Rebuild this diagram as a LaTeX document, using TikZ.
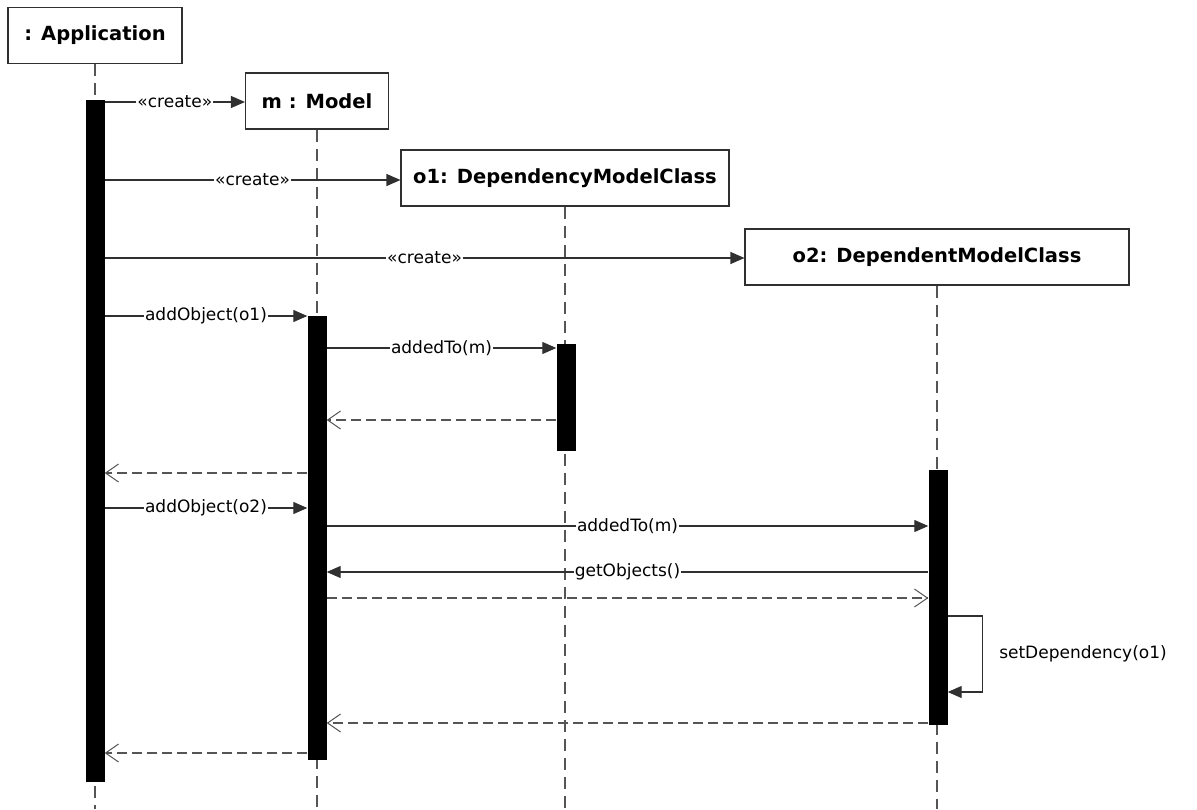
\documentclass[tikz,border=0pt]{standalone}
\usepackage{fontspec}
\setmainfont{DejaVu Sans}
\usetikzlibrary{arrows.meta}
\definecolor{ln}{HTML}{303030}
\definecolor{ll}{HTML}{555555}
\tikzset{
  obj/.style={draw=ln, line width=1.1pt, fill=white, minimum height=56pt, inner sep=0pt, font=\bfseries\fontsize{19.5}{21}\selectfont},
  actbar/.style={fill=black, draw=none, minimum width=19pt, inner sep=0pt},
  lifeline/.style={draw=ll, line width=1.3pt, dash pattern=on 12pt off 7pt},
  msg/.style={draw=ln, line width=1.1pt, -{Triangle[length=14pt,width=12pt]}},
  ret/.style={draw=ll, line width=1.1pt, dash pattern=on 10pt off 5pt, -{Straight Barb[length=13pt,width=18pt,line width=1pt]}},
  lbl/.style={fill=white, inner sep=1pt, font=\fontsize{17}{19}\selectfont, text=black}
}
\begin{document}
\begin{tikzpicture}[x=1pt,y=-1pt]
\useasboundingbox (0,0) rectangle (1197,809);
% objects
\node[obj, minimum width=174pt] (app) at (95,35.5) {: Application};
\node[obj, minimum width=143pt] (mod) at (317,101) {m : Model};
\node[obj, minimum width=328pt] (o1) at (565,178) {o1: DependencyModelClass};
\node[obj, minimum width=384pt] (o2) at (937,257) {o2: DependentModelClass};
% lifelines
\coordinate (appEnd) at (95,809);
\coordinate (modEnd) at (317,809);
\coordinate (o1End) at (565,809);
\coordinate (o2End) at (937,809);
\draw[lifeline] (app.south) -- (appEnd);
\draw[lifeline] (mod.south) -- (modEnd);
\draw[lifeline] (o1.south) -- (o1End);
\draw[lifeline] (o2.south) -- (o2End);
% activation bars
\node[actbar, minimum height=682pt] (aA) at (95,441) {};
\node[actbar, minimum height=444pt] (aM) at (317,538) {};
\node[actbar, minimum height=107pt] (aO1) at (566,397.5) {};
\node[actbar, minimum height=255pt] (aO2) at (938,597.5) {};
% messages
\draw[msg] (aA.east |- 0,102) -- node[lbl]{«create»} (mod.west |- 0,102);
\draw[msg] (aA.east |- 0,180) -- node[lbl]{«create»} (o1.west |- 0,180);
\draw[msg] (aA.east |- 0,258) -- node[lbl]{«create»} (o2.west |- 0,258);
\draw[msg] (aA.east |- 0,316) -- node[lbl]{addObject(o1)} (aM.west |- 0,316);
\draw[msg] (aM.east |- 0,348) -- node[lbl]{addedTo(m)} (aO1.west |- 0,348);
\draw[ret] (aO1.west |- 0,420) -- (aM.east |- 0,420);
\draw[ret] (aM.west |- 0,473) -- (aA.east |- 0,473);
\draw[msg] (aA.east |- 0,508) -- node[lbl]{addObject(o2)} (aM.west |- 0,508);
\draw[msg] (aM.east |- 0,526) -- node[lbl]{addedTo(m)} (aO2.west |- 0,526);
\draw[msg] (aO2.west |- 0,572) -- node[lbl]{getObjects()} (aM.east |- 0,572);
\draw[ret] (aM.east |- 0,598) -- (aO2.west |- 0,598);
\draw[msg] (aO2.east |- 0,616) -- ++(35,0) -- ++(0,76)
   node[lbl, pos=0.5, right=15pt, fill=none] {setDependency(o1)} -- (aO2.east |- 0,692);
\draw[ret] (aO2.west |- 0,723) -- (aM.east |- 0,723);
\draw[ret] (aM.west |- 0,753) -- (aA.east |- 0,753);
\end{tikzpicture}
\end{document}
